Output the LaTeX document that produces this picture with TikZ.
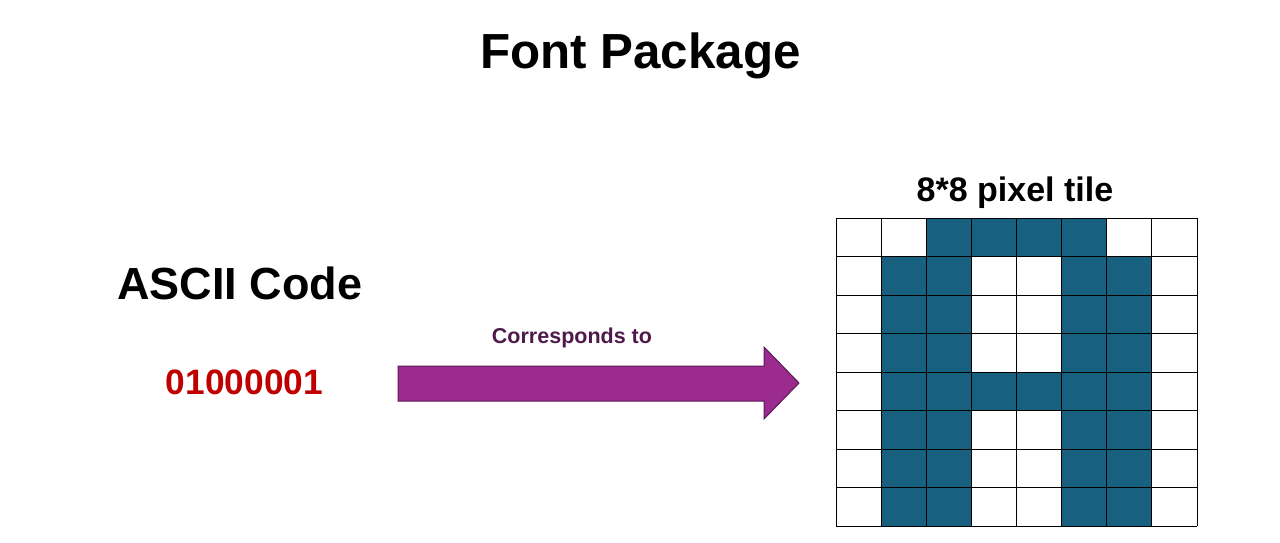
\documentclass[tikz,border=0pt]{standalone}
\usepackage{fontspec}
\setmainfont{Liberation Sans}
\definecolor{tilefill}{HTML}{17607F}
\definecolor{arrowfill}{HTML}{9C2B8F}
\definecolor{arrowedge}{HTML}{5A1A55}
\definecolor{labelpurple}{HTML}{4F1A4A}
\definecolor{codered}{HTML}{C00000}
\tikzset{
  txt/.style={anchor=base, inner sep=0pt, font=\bfseries},
  cell/.style={draw=black, line width=0.8pt},
}
\begin{document}
\begin{tikzpicture}[x=1pt,y=-1pt]
\useasboundingbox (0,0) rectangle (1280,542);
\node[txt, font=\bfseries\fontsize{49.3}{54}\selectfont] (title) at (640.5,68) {Font Package};
\node[txt, font=\bfseries\fontsize{45}{50}\selectfont] (ascii) at (240,299) {ASCII Code};
\node[txt, text=codered, font=\bfseries\fontsize{35.3}{40}\selectfont] (code) at (244.5,394) {01000001};
\node[txt, text=labelpurple, font=\bfseries\fontsize{21.5}{26}\selectfont] (corr) at (572,343) {Corresponds to};
\node[txt, font=\bfseries\fontsize{34}{40}\selectfont] (tiletitle) at (1015,201) {8*8 pixel tile};
% arrow
\draw[fill=arrowfill, draw=arrowedge, line width=1pt, line join=miter]
  (398,366) -- (764,366) -- (764,347) -- (799,383) -- (764,419) -- (764,401) -- (398,401) -- cycle;
% tile
\def\cw{45.125}
\def\ch{38.5}
\foreach \r/\cols in {0/{2,3,4,5},1/{1,2,5,6},2/{1,2,5,6},3/{1,2,5,6},4/{1,2,3,4,5,6},5/{1,2,5,6},6/{1,2,5,6},7/{1,2,5,6}}{
  \foreach \c in \cols {
    \fill[tilefill] ({836+\c*\cw},{218+\r*\ch}) rectangle ++(\cw,\ch);
  }
}
\foreach \i in {0,...,8}{
  \draw[line width=0.8pt] ({836+\i*\cw},218) -- ({836+\i*\cw},526);
  \draw[line width=0.8pt] (836,{218+\i*\ch}) -- (1197,{218+\i*\ch});
}
\end{tikzpicture}
\end{document}
